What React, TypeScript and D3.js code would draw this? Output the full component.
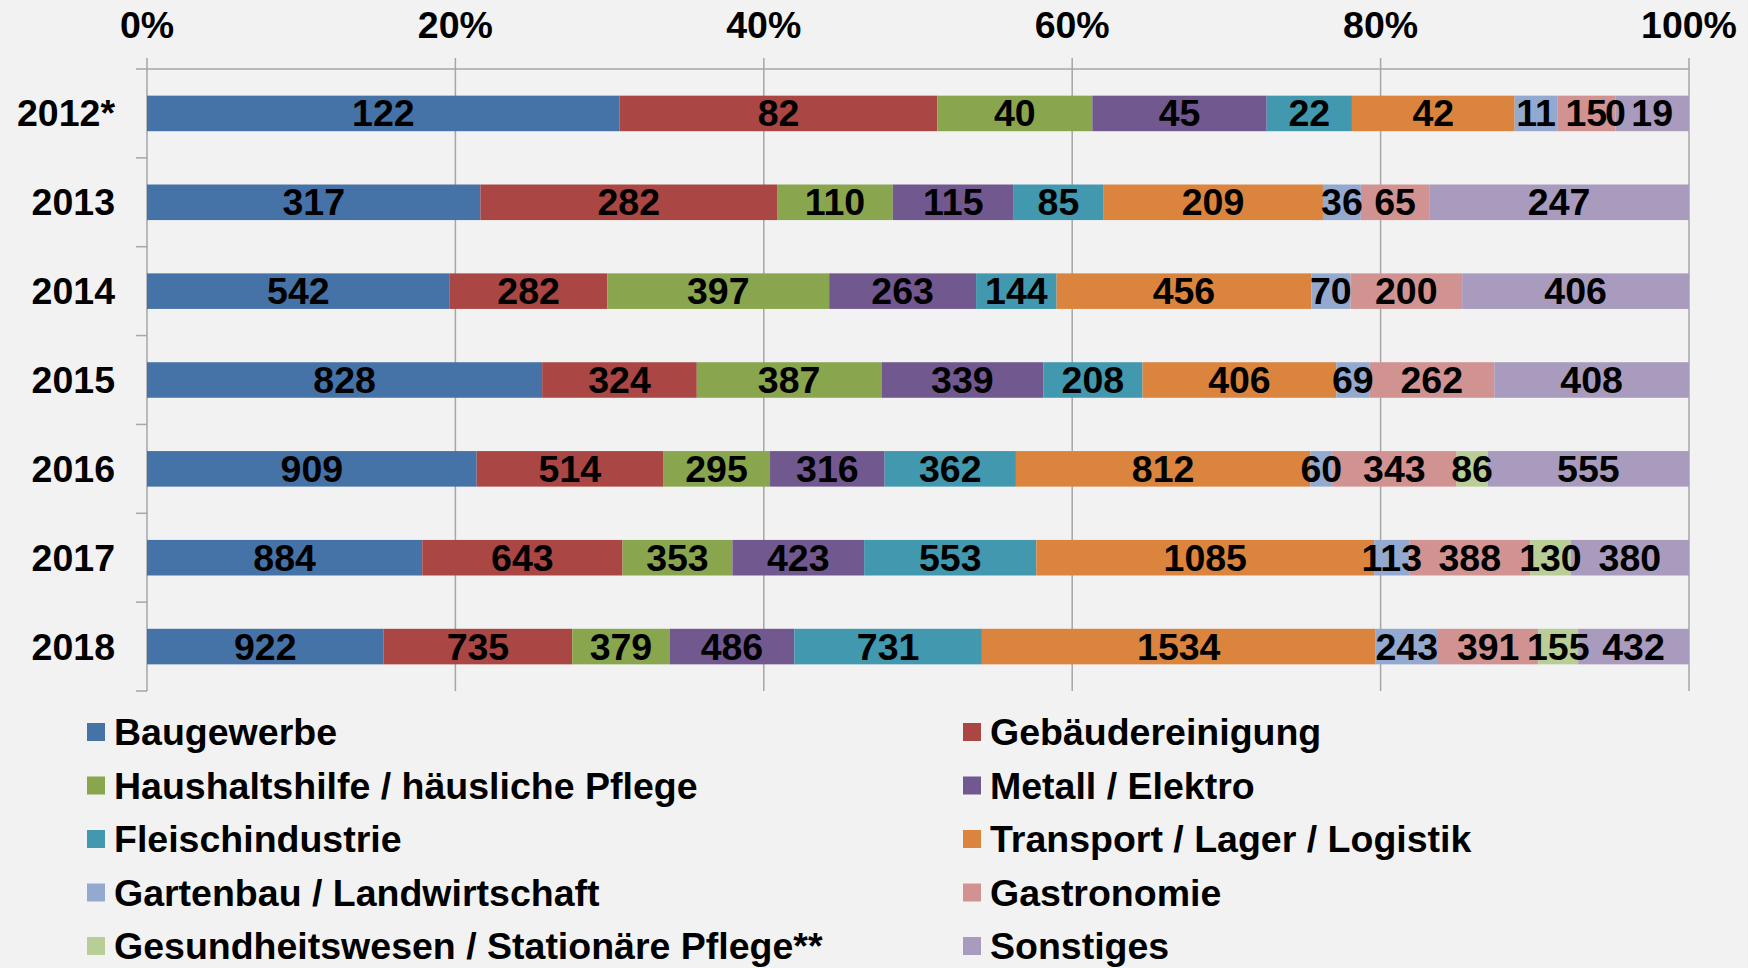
import * as d3 from "d3";
import { useEffect, useRef } from "react";

const years = ["2012*", "2013", "2014", "2015", "2016", "2017", "2018"];
const categories = [
  "Baugewerbe",
  "Gebäudereinigung",
  "Haushaltshilfe / häusliche Pflege",
  "Metall / Elektro",
  "Fleischindustrie",
  "Transport / Lager / Logistik",
  "Gartenbau / Landwirtschaft",
  "Gastronomie",
  "Gesundheitswesen / Stationäre Pflege**",
  "Sonstiges",
];
const colors = [
  "#4572a7", "#aa4643", "#89a54e", "#71588f", "#4198af",
  "#db843d", "#93a9cf", "#d19392", "#b9cd96", "#a99bbd",
];

// one array per year, in category order (null = no value reported)
const v2012 = [122, 82, 40, 45, 22, 42, 11, 15, 0, 19];
const v2013 = [317, 282, 110, 115, 85, 209, 36, 65, null, 247];
const v2014 = [542, 282, 397, 263, 144, 456, 70, 200, null, 406];
const v2015 = [828, 324, 387, 339, 208, 406, 69, 262, null, 408];
const v2016 = [909, 514, 295, 316, 362, 812, 60, 343, 86, 555];
const v2017 = [884, 643, 353, 423, 553, 1085, 113, 388, 130, 380];
const v2018 = [922, 735, 379, 486, 731, 1534, 243, 391, 155, 432];
const values = [v2012, v2013, v2014, v2015, v2016, v2017, v2018];

const tickValues = [0, 0.2, 0.4, 0.6, 0.8, 1];

const W = 1748;
const H = 968;
const FONT = "'Liberation Sans', Arial, sans-serif";
const FS = "37.5px";

export default function App() {
  const ref = useRef<SVGSVGElement>(null);

  useEffect(() => {
    draw();
  }, []);

  function draw() {
    const svg = d3.select(ref.current);
    svg.selectAll("*").remove();

    const left = 147;
    const right = 1689;
    const top = 69;
    const bottom = 691;

    const x = d3.scaleLinear().domain([0, 1]).range([left, right]);
    const y = d3.scaleBand<string>()
      .domain(years)
      .range([top, bottom])
      .paddingInner(0.6)
      .paddingOuter(0.3);

    svg.append("rect")
      .attr("width", W)
      .attr("height", H)
      .attr("fill", "#f2f2f2");

    // vertical gridlines + top ticks
    svg.append("g")
      .selectAll("line")
      .data(tickValues)
      .join("line")
      .attr("x1", (d) => x(d))
      .attr("x2", (d) => x(d))
      .attr("y1", top - 11)
      .attr("y2", bottom)
      .attr("stroke", "#a6a6a6")
      .attr("stroke-width", 1.5);

    svg.append("line")
      .attr("x1", left)
      .attr("x2", right)
      .attr("y1", top)
      .attr("y2", top)
      .attr("stroke", "#a6a6a6")
      .attr("stroke-width", 1.5);

    // category separator ticks on the left
    const step = y.step();
    svg.append("g")
      .selectAll("line")
      .data(d3.range(years.length + 1))
      .join("line")
      .attr("x1", left - 11)
      .attr("x2", left)
      .attr("y1", (i) => top + i * step)
      .attr("y2", (i) => top + i * step)
      .attr("stroke", "#a6a6a6")
      .attr("stroke-width", 1.5);

    svg.append("g")
      .selectAll("text")
      .data(tickValues)
      .join("text")
      .attr("x", (d) => x(d))
      .attr("y", 38)
      .attr("text-anchor", "middle")
      .style("font-family", FONT)
      .style("font-weight", "700")
      .style("font-size", FS)
      .text((d) => `${Math.round(d * 100)}%`);

    svg.append("g")
      .selectAll("text")
      .data(years)
      .join("text")
      .attr("x", 115)
      .attr("y", (d) => (y(d) as number) + y.bandwidth() / 2 + 13)
      .attr("text-anchor", "end")
      .style("font-family", FONT)
      .style("font-weight", "700")
      .style("font-size", FS)
      .text((d) => d);

    // stacked 100% bars
    years.forEach((year, yi) => {
      const row = values[yi];
      const total = d3.sum(row, (v) => v ?? 0);
      let acc = 0;
      const segs = row.map((v, ci) => {
        const start = acc / total;
        acc += v ?? 0;
        return { v, ci, start, end: acc / total };
      });
      const g = svg.append("g");
      g.selectAll("rect")
        .data(segs)
        .join("rect")
        .attr("x", (d) => x(d.start))
        .attr("width", (d) => x(d.end) - x(d.start))
        .attr("y", y(year) as number)
        .attr("height", y.bandwidth())
        .attr("fill", (d) => colors[d.ci]);
      g.selectAll("text")
        .data(segs.filter((d) => d.v !== null))
        .join("text")
        .attr("x", (d) => (x(d.start) + x(d.end)) / 2)
        .attr("y", (y(year) as number) + y.bandwidth() / 2 + 13)
        .attr("text-anchor", "middle")
        .style("font-family", FONT)
        .style("font-weight", "700")
        .style("font-size", FS)
        .style("fill", "#000")
        .text((d) => String(d.v));
    });

    // legend, two columns
    const legend = svg.append("g")
      .selectAll("g")
      .data(categories)
      .join("g")
      .attr("transform", (d, i) => {
        const col = i % 2;
        const rowI = Math.floor(i / 2);
        return `translate(${col === 0 ? 87 : 963}, ${732 + rowI * 53.5})`;
      });
    legend.append("rect")
      .attr("x", 0)
      .attr("y", -9)
      .attr("width", 18)
      .attr("height", 18)
      .attr("fill", (d, i) => colors[i]);
    legend.append("text")
      .attr("x", 27)
      .attr("y", 13)
      .style("font-family", FONT)
      .style("font-weight", "700")
      .style("font-size", FS)
      .text((d) => d);
  }

  return (
    <svg
      ref={ref}
      width={W}
      height={H}
      style={{ position: "absolute", left: 0, top: 0, display: "block" }}
    />
  );
}
